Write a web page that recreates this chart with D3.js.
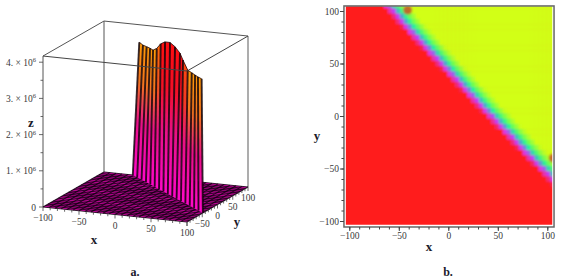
<!DOCTYPE html>
<html>
<head>
<meta charset="utf-8">
<script src="https://d3js.org/d3.v7.min.js"></script>
<style>
  html, body { margin: 0; padding: 0; background: #fff; }
  svg { display: block; }
  text { font-family: "Liberation Serif", serif; fill: #3a3a3a; }
  .lab { font-weight: bold; fill: #1a1a2a; font-size: 13px; }
  .tick text { font-size: 9.5px; }
</style>
</head>
<body>
<div id="chart"></div>
<script>
// panel a: foot of the ridge on the floor
var baseX = [-60, -50, -40, -30, -20, -10, 0, 10, 20, 30, 40, 50, 60, 70, 80, 90, 100];
var baseY = [100, 90.75, 81.5, 72.25, 63, 53.75, 44.5, 35.25, 26, 16.75, 7.5, -1.75, -11, -20.25, -29.5, -38.75, -48];
// panel a: crest of the ridge
var crestX = [-51, -42, -33, -24.3, -16.2, -7.2, 2.2, 12.2, 23, 33.9, 44.7, 52.8, 63.3, 72.8, 81.3, 89.3, 98.3];
var crestZ = [3.685e6, 3.67e6, 3.69e6, 3.71e6, 3.72e6, 3.83e6, 4.02e6, 4.14e6, 4.19e6, 4.14e6, 4.03e6, 3.9e6, 3.69e6, 3.68e6, 3.68e6, 3.69e6, 3.7e6];
var zTicks = [0, 1e6, 2e6, 3e6, 4e6];
var zLabels = ["0", "1.", "2.", "3.", "4."];
var xyTicks = [-100, -50, 0, 50, 100];

// panel b: x of the magenta line of the front, row by row
var rowY = [105, 100, 95, 90, 85, 80, 75, 70, 65, 60, 55, 50, 45, 40, 35, 30, 25, 20, 15, 10, 5, 0, -5, -10, -15, -20, -25, -30, -35, -40, -45, -50, -55, -60, -65, -70];
var frontX = [-61, -56, -51, -47, -42, -37, -32, -27, -22, -17, -12, -7, -2, 3, 8, 13, 18, 23, 28, 33, 38, 43.5, 48.5, 53.5, 59, 64, 69, 74, 79, 84, 89.5, 95, 100, 105, 110, 115];
var phaseOffset = [-6, -2, 1, 4, 7, 12, 20];
var phaseColor = ["#ff1c1c", "#dc38e4", "#c040f8", "#50a8d0", "#20f0a0", "#70ff50", "#d2ff18"];
// two small brownish spots on the picture edge
var spotX = [-41, 106];
var spotY = [101, -40];

var svg = d3.select("#chart").append("svg").attr("width", 567).attr("height", 280);
var defs = svg.append("defs");

// ---- panel a ----
// the box is drawn without perspective, so three axis vectors are enough
var ax = d3.scaleLinear().domain([-100, 100]).range([0, 1]);
var az = d3.scaleLinear().domain([0, 1e6]).range([0, -36.2]);
function project(x, y, z) {
  var a = ax(x), b = ax(y);
  return [43 + 144 * a + 61 * b, 207 + 15 * a - 35 * b + az(z)];
}
function poly(points) { return "M" + points.map(function(p) { return p.join(","); }).join("L") + "Z"; }

var a = svg.append("g");
var zTop = 4.17e6;
var boxBack = [
  [[-100, -100, 0], [-100, -100, zTop]],
  [[-100, 100, 0], [-100, 100, zTop]],
  [[100, 100, 0], [100, 100, zTop]],
  [[-100, -100, zTop], [-100, 100, zTop]],
  [[-100, 100, zTop], [100, 100, zTop]]
];
boxBack.forEach(function(s) {
  var p = project.apply(null, s[0]), q = project.apply(null, s[1]);
  a.append("line").attr("x1", p[0]).attr("y1", p[1]).attr("x2", q[0]).attr("y2", q[1])
    .attr("stroke", s[0][0] == 100 ? "#999" : "#555").attr("stroke-width", s[0][0] == 100 ? 1.6 : 1);
});

// floor
a.append("path")
  .attr("d", poly([project(-100, -100, 0), project(100, -100, 0), project(100, 100, 0), project(-100, 100, 0)]))
  .attr("fill", "#e008b0");
var gridSteps = d3.range(-100, 100.01, 200 / 24);
gridSteps.forEach(function(v) {
  var p = project(v, -100, 0), q = project(v, 100, 0);
  a.append("line").attr("x1", p[0]).attr("y1", p[1]).attr("x2", q[0]).attr("y2", q[1])
    .attr("stroke", "#100010").attr("stroke-width", 1.1).attr("stroke-opacity", 0.85);
  p = project(-100, v, 0); q = project(100, v, 0);
  a.append("line").attr("x1", p[0]).attr("y1", p[1]).attr("x2", q[0]).attr("y2", q[1])
    .attr("stroke", "#100010").attr("stroke-width", 1.1).attr("stroke-opacity", 0.85);
});

// ridge
var crestColor = d3.scaleLinear().domain([3.72e6, 4.03e6]).range(["#ff9a08", "#ff0c10"]).clamp(true);
var foot = baseX.map(function(x, i) { return project(x, baseY[i], 0); });
var crest = crestX.map(function(x, i) { return project(x, baseY[i], crestZ[i]); });
d3.range(baseX.length - 1).forEach(function(i) {
  var id = "blade" + i;
  var c = crestColor(crestZ[i]);
  var g = defs.append("linearGradient").attr("id", id).attr("gradientUnits", "userSpaceOnUse")
    .attr("x1", 0).attr("x2", 0).attr("y1", foot[i][1]).attr("y2", crest[i][1]);
  g.append("stop").attr("offset", 0).attr("stop-color", "#ff08c8");
  g.append("stop").attr("offset", 0.4).attr("stop-color", "#e81088");
  g.append("stop").attr("offset", 0.7).attr("stop-color", d3.interpolateRgb("#d81858", c)(0.7));
  g.append("stop").attr("offset", 1).attr("stop-color", c);
  a.append("path").attr("d", poly([foot[i], foot[i + 1], crest[i + 1], crest[i]])).attr("fill", "url(#" + id + ")");
});
baseX.forEach(function(x, i) {
  a.append("line").attr("x1", foot[i][0]).attr("y1", foot[i][1]).attr("x2", crest[i][0]).attr("y2", crest[i][1])
    .attr("stroke", "#0c0008").attr("stroke-width", 1.9).attr("stroke-opacity", 0.82);
});
a.append("path").attr("fill", "none").attr("stroke", "#200808").attr("stroke-width", 0.8)
  .attr("d", d3.line().curve(d3.curveLinear)(crest));

// front top edges cross the ridge
[[[-100, -100, zTop], [100, -100, zTop]], [[100, -100, zTop], [100, 100, zTop]]].forEach(function(s) {
  var p = project.apply(null, s[0]), q = project.apply(null, s[1]);
  a.append("line").attr("x1", p[0]).attr("y1", p[1]).attr("x2", q[0]).attr("y2", q[1])
    .attr("stroke", "#444").attr("stroke-width", 1);
});

// z axis
d3.range(0, 4.01e6, 5e5).forEach(function(v) {
  var p = project(-100, -100, v);
  a.append("line").attr("x1", p[0] - (v % 1e6 == 0 ? 4 : 2.5)).attr("x2", p[0]).attr("y1", p[1]).attr("y2", p[1])
    .attr("stroke", "#444").attr("stroke-width", 0.8);
});
zTicks.forEach(function(v, i) {
  var p = project(-100, -100, v);
  var t = a.append("text").attr("x", p[0] - 7).attr("y", p[1] + 3.5).attr("text-anchor", "end").attr("font-size", 9.5);
  if (v == 0) { t.text(zLabels[i]); return; }
  t.append("tspan").text(zLabels[i] + " × 10");
  t.append("tspan").attr("font-size", 6.5).attr("dy", -3.5).text("6");
});
// x and y ticks along the floor edges
d3.range(-100, 100.01, 10).forEach(function(v) {
  var p = project(v, -100, 0), q = project(100, v, 0), len = v % 50 == 0 ? 4 : 2.5;
  a.append("line").attr("x1", p[0]).attr("x2", p[0]).attr("y1", p[1]).attr("y2", p[1] + len).attr("stroke", "#444").attr("stroke-width", 0.8);
  a.append("line").attr("x1", q[0]).attr("x2", q[0]).attr("y1", q[1]).attr("y2", q[1] + len).attr("stroke", "#444").attr("stroke-width", 0.8);
});
xyTicks.forEach(function(v) {
  var p = project(v, -100, 0);
  a.append("text").attr("x", p[0]).attr("y", p[1] + 14).attr("text-anchor", "middle").attr("font-size", 9.5).text(d3.format("d")(v));
  if (v > -100) {
    var q = project(100, v, 0);
    a.append("text").attr("x", q[0]).attr("y", q[1] + 14).attr("text-anchor", "middle").attr("font-size", 9.5).text(d3.format("d")(v));
  }
});
a.append("text").attr("class", "lab").attr("x", 31).attr("y", 127).attr("text-anchor", "middle").text("z");
a.append("text").attr("class", "lab").attr("x", 94).attr("y", 244).attr("text-anchor", "middle").text("x");
a.append("text").attr("class", "lab").attr("x", 237).attr("y", 226).attr("text-anchor", "middle").text("y");
a.append("text").attr("class", "lab").attr("x", 135).attr("y", 276).attr("text-anchor", "middle").style("font-size", "12px").text("a.");

// ---- panel b ----
var x = d3.scaleLinear().domain([-100, 100]).range([349.3, 547.3]);
var y = d3.scaleLinear().domain([-100, 100]).range([221, 11]);
var phase = d3.scaleLinear().domain(phaseOffset).range(phaseColor).clamp(true);

var b = svg.append("g");
defs.append("clipPath").attr("id", "imgclip").append("rect")
  .attr("x", x(-103.5)).attr("y", y(104.6)).attr("width", x(105) - x(-103.5)).attr("height", y(-103.5) - y(104.6));
var blur = defs.append("filter").attr("id", "soft").attr("x", "-5%").attr("y", "-5%").attr("width", "110%").attr("height", "110%");
blur.append("feGaussianBlur").attr("stdDeviation", 0.9);

var img = b.append("g").attr("clip-path", "url(#imgclip)").append("g").attr("filter", "url(#soft)");
img.append("rect").attr("x", x(-125)).attr("y", y(125)).attr("width", x(125) - x(-125)).attr("height", y(-125) - y(125)).attr("fill", phaseColor[0]);
var colX = d3.range(-125, 125, 4);
rowY.forEach(function(ry, i) {
  img.selectAll(null).data(colX).join("rect")
    .attr("x", function(d) { return x(d); })
    .attr("y", y(ry + 2.5))
    .attr("width", x(4) - x(0) + 0.5)
    .attr("height", y(0) - y(5) + 0.5)
    .attr("fill", function(d) { return phase(d + 2 - frontX[i]); });
});
spotX.forEach(function(sx, i) {
  img.append("circle").attr("cx", x(sx)).attr("cy", y(spotY[i])).attr("r", 4.5).attr("fill", "#c85028").attr("fill-opacity", 0.85);
});

b.append("rect").attr("x", x(-105.4)).attr("y", y(104.8)).attr("width", x(106.8) - x(-105.4)).attr("height", y(-105.7) - y(104.8))
  .attr("fill", "none").attr("stroke", "#666").attr("stroke-width", 1.5);

var minor = d3.range(-100, 100.01, 10);
b.append("g").attr("transform", "translate(0," + y(-105.7) + ")")
  .call(d3.axisBottom(x).tickValues(minor).tickSize(2.5).tickFormat(""))
  .call(function(g) { g.select(".domain").remove(); g.selectAll("line").attr("stroke", "#444"); });
b.append("g").attr("transform", "translate(0," + y(-105.7) + ")")
  .call(d3.axisBottom(x).tickValues(xyTicks).tickSize(4).tickPadding(1))
  .call(function(g) { g.select(".domain").remove(); g.selectAll("line").attr("stroke", "#444"); });
b.append("g").attr("transform", "translate(" + x(-105.4) + ",0)")
  .call(d3.axisLeft(y).tickValues(minor).tickSize(2.5).tickFormat(""))
  .call(function(g) { g.select(".domain").remove(); g.selectAll("line").attr("stroke", "#444"); });
b.append("g").attr("transform", "translate(" + x(-105.4) + ",0)")
  .call(d3.axisLeft(y).tickValues(xyTicks).tickSize(4).tickPadding(1))
  .call(function(g) { g.select(".domain").remove(); g.selectAll("line").attr("stroke", "#444"); });

b.append("text").attr("class", "lab").attr("x", 317).attr("y", 140).attr("text-anchor", "middle").text("y");
b.append("text").attr("class", "lab").attr("x", 429).attr("y", 251).attr("text-anchor", "middle").text("x");
b.append("text").attr("class", "lab").attr("x", 448).attr("y", 276).attr("text-anchor", "middle").style("font-size", "12px").text("b.");
</script>
</body>
</html>
